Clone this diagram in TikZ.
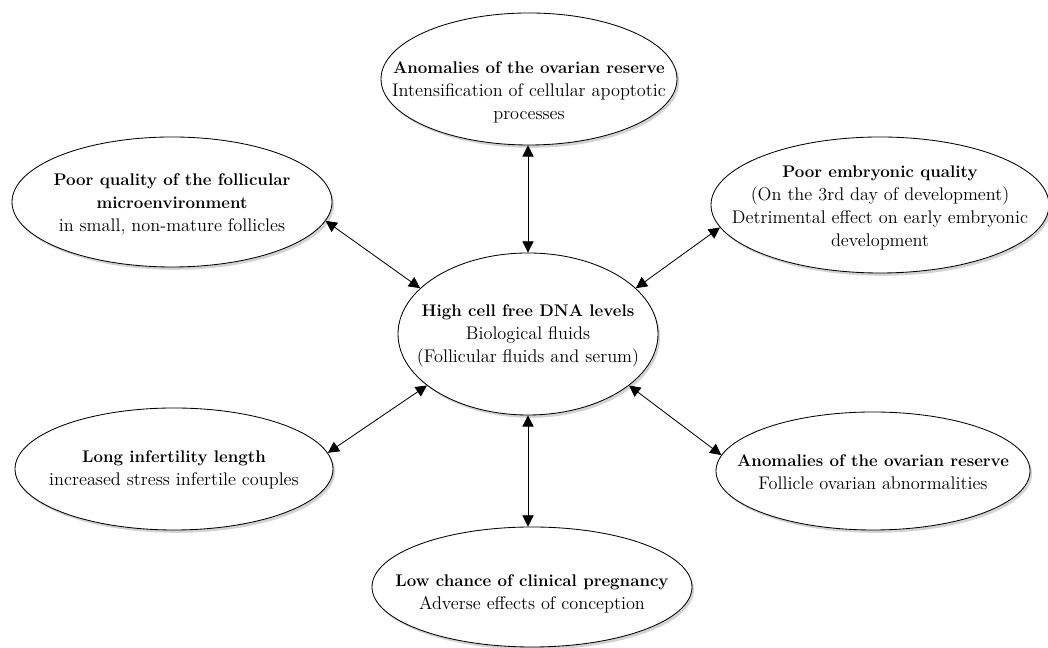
\documentclass[tikz,border=0pt]{standalone}
\usepackage{amsmath}
\usetikzlibrary{shapes.geometric,shadows,arrows.meta}
\newcommand{\hd}[1]{{\fontsize{12}{16.35}\selectfont\bfseries #1}}

\begin{document}
\begin{tikzpicture} [scale = 1,
  bubble/.style = {ellipse, draw, fill = white, line width = 0.6pt, inner sep = 0pt,
    drop shadow = {shadow xshift = 1.5pt, shadow yshift = -2pt, opacity = 0.35}},
  caption/.style = {align = center, inner sep = 0pt, font = \fontsize{13}{16.35}\selectfont},
  link/.style = {line width = 0.6pt, {Triangle[length = 8pt, width = 8pt]}-{Triangle[length = 8pt, width = 8pt]}}]
\useasboundingbox (0.0, 0.0) rectangle (26.2, 16.2);
\node[bubble, minimum width = 7.4cm, minimum height = 3.3cm] (anomtop) at (13.225, 14.225){};
\node[bubble, minimum width = 8.0cm, minimum height = 3.25cm] (follicle) at (4.3, 11.15){};
\node[bubble, minimum width = 8.45cm, minimum height = 3.4cm] (embryo) at (22.0, 11.075){};
\node[bubble, minimum width = 6.5cm, minimum height = 4.05cm] (cfdna) at (13.2, 7.85){};
\node[bubble, minimum width = 7.95cm, minimum height = 3.05cm] (infertility) at (4.35, 4.475){};
\node[bubble, minimum width = 7.85cm, minimum height = 2.95cm] (anombottom) at (21.825, 4.425){};
\node[bubble, minimum width = 8.0cm, minimum height = 3.0cm] (pregnancy) at (13.3, 1.525){};
\node[caption] (anomtop-txt) at (13.225, 13.9){\hd{Anomalies of the ovarian reserve}\\Intensification of cellular apoptotic\\processes};
\node[caption] (follicle-txt) at (4.3, 11.1){\hd{Poor quality of the follicular}\\\hd{microenvironment}\\in small, non-mature follicles};
\node[caption] (embryo-txt) at (22.0, 11.0){\hd{Poor embryonic quality}\\(On the 3rd day of development)\\Detrimental effect on early embryonic\\development};
\node[caption] (cfdna-txt) at (13.2, 7.8){\hd{High cell free DNA levels}\\Biological fluids\\(Follicular fluids and serum)};
\node[caption] (infertility-txt) at (4.35, 4.45){\hd{Long infertility length}\\increased stress infertile couples};
\node[caption] (anombottom-txt) at (21.825, 4.4){\hd{Anomalies of the ovarian reserve}\\Follicle ovarian abnormalities};
\node[caption] (pregnancy-txt) at (13.3, 1.35){\hd{Low chance of clinical pregnancy}\\Adverse effects of conception};
\draw[link] (cfdna.north) -- (cfdna.north |- anomtop.south);
\draw[link] (cfdna.157) -- (follicle.-7);
\draw[link] (cfdna.23) -- (embryo.188);
\draw[link] (cfdna.207) -- (infertility.6);
\draw[link] (cfdna.-27.5) -- (anombottom.174);
\draw[link] (cfdna.south) -- (cfdna.south |- pregnancy.north);
\end{tikzpicture}
\end{document}
